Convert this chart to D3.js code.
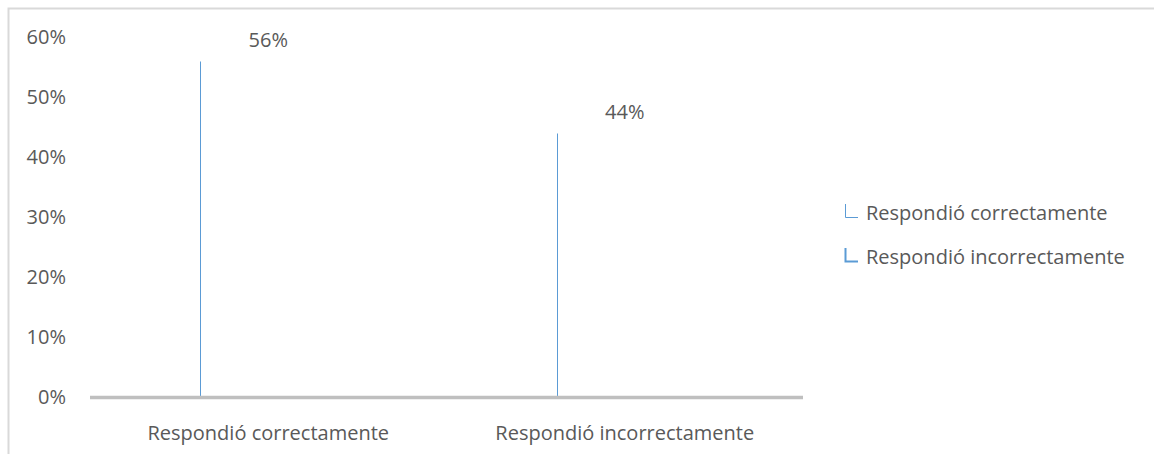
<!DOCTYPE html>
<html>
<head>
<meta charset="utf-8">
<script src="https://cdn.jsdelivr.net/npm/d3@7"></script>
<style>
  html, body { margin: 0; padding: 0; background: #fff; }
  svg text { font-family: "Open Sans", "Noto Sans", sans-serif; fill: #595959; }
</style>
</head>
<body>
<svg id="chart" width="1154" height="454"></svg>
<script>
// Survey answer shares
const categories = ["Respondió correctamente", "Respondió incorrectamente"];
const values = [0.56, 0.44];
const seriesNames = ["Respondió correctamente", "Respondió incorrectamente"];
const yTicks = [0, 0.1, 0.2, 0.3, 0.4, 0.5, 0.6];

const svg = d3.select("#chart");
const W = 1154, H = 454;
const fontSize = 20;
const barColor = "#5b9bd5";

// Outer frame (right and bottom edges fall outside the page)
svg.append("rect")
  .attr("x", 8.5).attr("y", 8.5)
  .attr("width", W + 10).attr("height", H + 10)
  .attr("fill", "none").attr("stroke", "#d9d9d9").attr("stroke-width", 2);

const plot = { left: 90, right: 803, top: 37.5, bottom: 397.5 };

const x = d3.scaleBand().domain(categories).range([plot.left, plot.right]).padding(0);
const y = d3.scaleLinear().domain([0, 0.6]).range([plot.bottom, plot.top]);

// Y axis labels
const yAxis = d3.axisLeft(y).tickValues(yTicks).tickFormat(d3.format(".0%")).tickSize(0).tickPadding(0);
const gy = svg.append("g").attr("transform", "translate(66,0)").call(yAxis);
gy.select(".domain").remove();
gy.selectAll("text")
  .attr("font-size", fontSize)
  .style("font-family", "\"Open Sans\", sans-serif")
  .attr("fill", "#595959");

// Bars (drawn as hairlines)
const barOffset = 0.309;
svg.append("g").selectAll("line")
  .data(values)
  .join("line")
  .attr("x1", (d, i) => Math.round(x(categories[i]) + x.bandwidth() * barOffset) + 0.5)
  .attr("x2", (d, i) => Math.round(x(categories[i]) + x.bandwidth() * barOffset) + 0.5)
  .attr("y1", y(0))
  .attr("y2", d => y(d))
  .attr("stroke", barColor)
  .attr("stroke-width", 1);

// Value labels
svg.append("g").selectAll("text")
  .data(values)
  .join("text")
  .attr("x", (d, i) => x(categories[i]) + x.bandwidth() / 2)
  .attr("y", d => y(d) - 22)
  .attr("text-anchor", "middle")
  .attr("dominant-baseline", "central")
  .attr("font-size", fontSize)
  .text(d => d3.format(".0%")(d));

// Baseline
svg.append("line")
  .attr("x1", plot.left).attr("x2", plot.right)
  .attr("y1", y(0)).attr("y2", y(0))
  .attr("stroke", "#bfbfbf").attr("stroke-width", 3.5);

// Category labels
const xAxis = d3.axisBottom(x).tickSize(0).tickPadding(0);
const gx = svg.append("g").attr("transform", "translate(0,432)").call(xAxis);
gx.select(".domain").remove();
gx.selectAll("text")
  .attr("font-size", fontSize)
  .attr("dy", null)
  .attr("dominant-baseline", "central")
  .style("font-family", "\"Open Sans\", sans-serif")
  .attr("fill", "#595959");

// Legend
const legend = svg.append("g").selectAll("g")
  .data(seriesNames)
  .join("g")
  .attr("transform", (d, i) => `translate(845,${212 + i * 44})`);
legend.append("path")
  .attr("d", "M0.5,-8 V5.5 H13")
  .attr("fill", "none")
  .attr("stroke", barColor)
  .attr("stroke-width", (d, i) => i === 0 ? 1 : 2);
legend.append("text")
  .attr("x", 21)
  .attr("y", 0)
  .attr("dominant-baseline", "central")
  .attr("font-size", fontSize)
  .text(d => d);
</script>
</body>
</html>
